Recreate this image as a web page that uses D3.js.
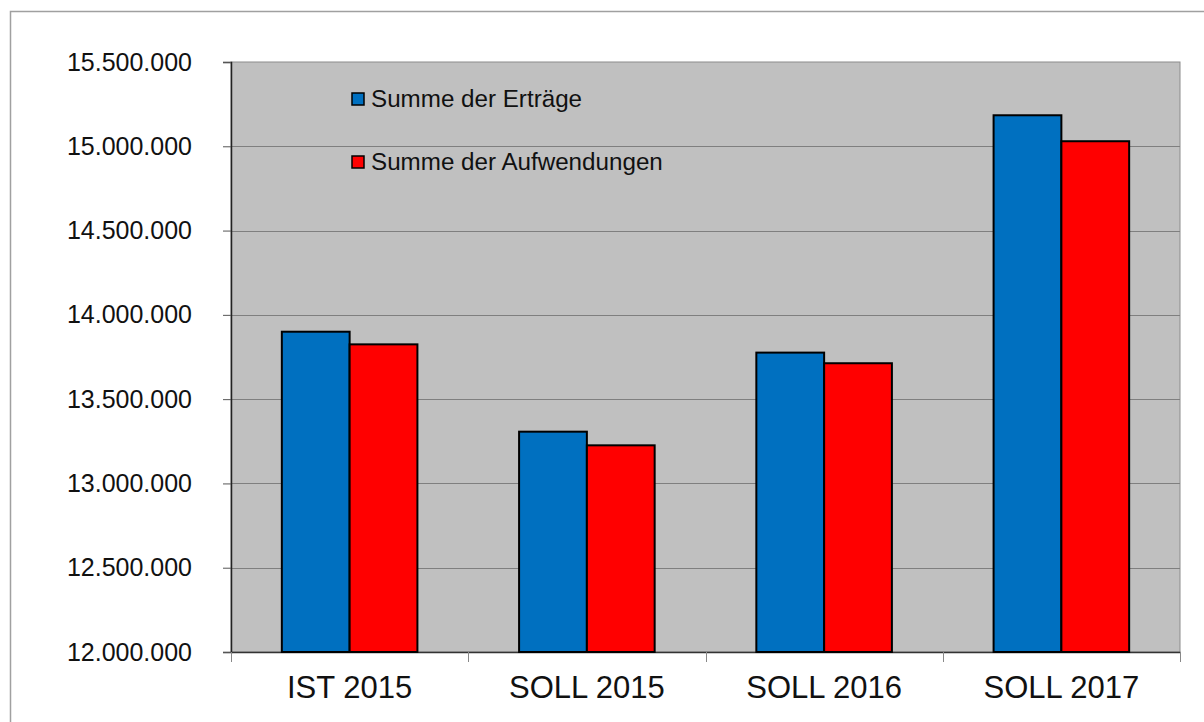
<!DOCTYPE html>
<html>
<head>
<meta charset="utf-8">
<script src="https://d3js.org/d3.v7.min.js"></script>
<style>
    body { margin: 0; background: #fff; }
    svg text { font-family: Arial, "Liberation Sans", sans-serif; fill: #111; }
</style>
</head>
<body>
<svg id="chart" width="1204" height="722"></svg>
<script>
// data
var categories = ["IST 2015", "SOLL 2015", "SOLL 2016", "SOLL 2017"];
var seriesNames = ["Summe der Erträge", "Summe der Aufwendungen"];
var ertraege = [13900000, 13307000, 13776000, 15184000];
var aufwendungen = [13825000, 13226000, 13713000, 15030000];
var yTicks = [12000000, 12500000, 13000000, 13500000, 14000000, 14500000, 15000000, 15500000];

// all the functions, fields go under this object
chart = {};
chart.colors = ["#0070C0", "#FF0000"];
chart.margins = { top: 62, bottom: 70, left: 231, right: 24 };
chart.x = d3.scaleBand();
chart.x1 = d3.scaleBand();
chart.y = d3.scaleLinear();

chart.init = function() {
    var svg = d3.select("#chart");
    this.width = 1204 - this.margins.left - this.margins.right;
    this.height = 722 - this.margins.top - this.margins.bottom;

    // outer frame, cut off on the right and bottom like the reference
    svg.append("rect")
        .attr("x", 10.5).attr("y", 11.5)
        .attr("width", 1200).attr("height", 720)
        .attr("fill", "none")
        .attr("stroke", "#a0a0a0")
        .attr("stroke-width", 1.5);

    this.svg = svg.append("g")
        .attr("transform", `translate(${this.margins.left}, ${this.margins.top})`);

    this.x.domain(categories).range([0, this.width]).paddingInner(0).paddingOuter(0);
    this.x1.domain([0, 1]).range([0, this.x.bandwidth()]).paddingInner(0).paddingOuter(0.75);
    this.y.domain([12000000, 15500000]).range([this.height, 0]);

    this.drawPlot();
    this.drawBars();
    this.drawLegend();
};

chart.drawPlot = function() {
    var fmt = (d) => d3.format(",")(d).replace(/,/g, ".");

    this.svg.append("rect")
        .attr("width", this.width)
        .attr("height", this.height)
        .attr("fill", "#C0C0C0")
        .attr("stroke", "#8c8c8c")
        .attr("stroke-width", 1);

    // grid lines
    this.svg.append("g")
        .selectAll("line")
        .data(yTicks.slice(1, -1))
        .enter()
        .append("line")
        .attr("x1", 0).attr("x2", this.width)
        .attr("y1", (d) => Math.round(this.y(d)) + 0.5)
        .attr("y2", (d) => Math.round(this.y(d)) + 0.5)
        .attr("stroke", "#7f7f7f")
        .attr("stroke-width", 1);

    // Y axis
    var yAxis = this.svg.append("g")
        .call(d3.axisLeft(this.y).tickValues(yTicks).tickFormat(fmt).tickSize(8).tickPadding(31));
    yAxis.select(".domain").attr("stroke", "#222").attr("stroke-width", 1.5);
    yAxis.selectAll(".tick line").attr("stroke", "#555");
    yAxis.selectAll("text").style("font-size", "25px").attr("fill", "#111");

    // X axis
    var xAxis = this.svg.append("g")
        .attr("transform", `translate(0, ${this.height})`)
        .call(d3.axisBottom(this.x).tickSize(0).tickPadding(24));
    xAxis.select(".domain").attr("stroke", "#333").attr("stroke-width", 1.5);
    xAxis.selectAll("text").style("font-size", "31px").attr("fill", "#111");

    // category boundary ticks
    xAxis.append("g")
        .selectAll("line")
        .data(d3.range(categories.length + 1))
        .enter()
        .append("line")
        .attr("x1", (i) => Math.round(i * this.x.step()) + 0.5)
        .attr("x2", (i) => Math.round(i * this.x.step()) + 0.5)
        .attr("y1", 0).attr("y2", 10)
        .attr("stroke", "#888");
};

chart.drawBars = function() {
    var series = [ertraege, aufwendungen];
    var rows = [];
    categories.forEach((c, i) => {
        series.forEach((s, j) => rows.push({ cat: c, k: j, v: s[i] }));
    });

    this.svg.append("g")
        .selectAll("rect")
        .data(rows)
        .enter()
        .append("rect")
        .attr("x", (d) => this.x(d.cat) + this.x1(d.k))
        .attr("y", (d) => this.y(d.v))
        .attr("width", this.x1.bandwidth())
        .attr("height", (d) => this.height - this.y(d.v))
        .attr("fill", (d) => this.colors[d.k])
        .attr("stroke", "#000")
        .attr("stroke-width", 2);
};

chart.drawLegend = function() {
    var legend = this.svg.append("g")
        .attr("transform", "translate(121, 31)");

    var items = legend.selectAll("g")
        .data(seriesNames)
        .enter()
        .append("g")
        .attr("transform", (d, i) => `translate(0, ${i * 63})`);

    items.append("rect")
        .attr("width", 12).attr("height", 12)
        .attr("fill", (d, i) => this.colors[i])
        .attr("stroke", "#000")
        .attr("stroke-width", 1.5);

    items.append("text")
        .attr("x", 19)
        .attr("y", 14)
        .style("font-size", "24.2px")
        .text((d) => d);
};

chart.init();
</script>
</body>
</html>
